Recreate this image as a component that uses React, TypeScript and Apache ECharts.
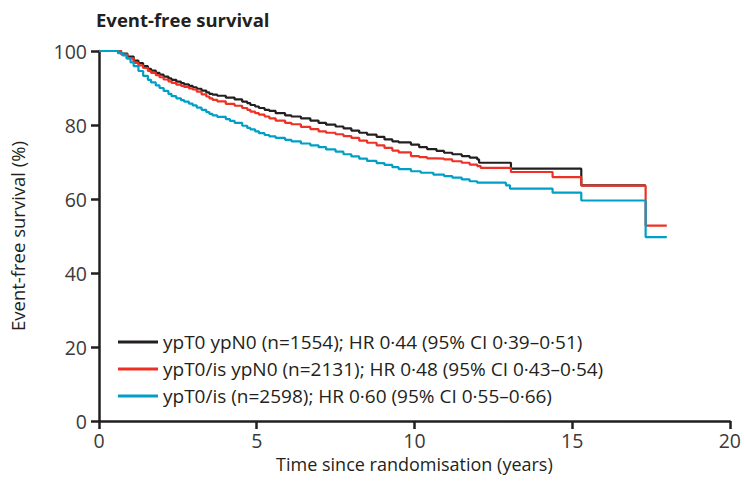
import React, { useEffect, useRef } from "react";
import * as echarts from "echarts";

const seriesNames = [
  "ypT0 ypN0 (n=1554); HR 0·44 (95% CI 0·39–0·51)",
  "ypT0/is ypN0 (n=2131); HR 0·48 (95% CI 0·43–0·54)",
  "ypT0/is (n=2598); HR 0·60 (95% CI 0·55–0·66)",
];
const seriesColors = ["#231f20", "#ee3124", "#00a0c6"];

// [years, survival %]
const ypT0ypN0: [number, number][] = [
  [0, 100], [0.5, 100], [0.7, 99.3], [0.9, 98.5], [1.1, 97.4], [1.25, 96.7], [1.4, 95.9], [1.55, 95.2], [1.65, 94.7],
  [1.8, 94.1], [1.92, 93.6], [2.05, 93.1], [2.2, 92.6], [2.3, 92.2], [2.45, 91.7], [2.6, 91.3], [2.7, 91.0], [2.85, 90.6],
  [2.97, 90.2], [3.1, 89.8], [3.25, 89.3], [3.4, 88.8], [3.5, 88.4], [3.6, 88.2], [3.75, 87.9], [4.02, 87.4],
  [4.3, 86.9], [4.54, 86.3], [4.7, 85.9], [4.8, 85.4], [4.95, 85.0], [5.07, 84.6], [5.25, 84.1], [5.4, 83.8],
  [5.6, 83.2], [5.9, 82.6], [6.1, 82.3], [6.4, 81.8], [6.7, 81.2], [6.96, 80.6], [7.2, 80.1], [7.5, 79.6],
  [7.75, 79.1], [8.0, 78.5], [8.25, 77.9], [8.5, 77.4], [8.8, 76.8], [9.05, 76.1], [9.3, 75.6], [9.5, 75.3],
  [9.89, 74.7], [10.15, 74.0], [10.4, 73.5], [10.7, 73.0], [10.94, 72.5], [11.2, 72.1], [11.5, 71.6],
  [11.75, 71.2], [11.99, 70.7], [12.05, 69.8], [13.06, 68.2], [15.29, 63.7], [17.33, 63.7],
];
const ypT0isypN0: [number, number][] = [
  [0, 100], [0.5, 100], [0.7, 99.1], [0.9, 98.0], [1.1, 96.8], [1.25, 96.1], [1.4, 95.4], [1.55, 94.6], [1.65, 94.1],
  [1.8, 93.5], [1.92, 92.9], [2.05, 92.3], [2.2, 91.8], [2.3, 91.4], [2.45, 90.9], [2.6, 90.6], [2.7, 90.3], [2.85, 89.9],
  [2.97, 89.6], [3.1, 89.0], [3.25, 88.3], [3.4, 87.7], [3.5, 87.2], [3.6, 86.8], [3.75, 86.4], [4.02, 85.7],
  [4.3, 85.2], [4.54, 84.6], [4.7, 84.1], [4.8, 83.6], [4.95, 83.2], [5.07, 82.8], [5.25, 82.3], [5.4, 81.8],
  [5.6, 81.2], [5.9, 80.6], [6.1, 80.2], [6.4, 79.5], [6.7, 78.9], [6.96, 78.3], [7.2, 77.9], [7.5, 77.5],
  [7.75, 77.0], [8.0, 76.5], [8.25, 75.8], [8.5, 75.2], [8.8, 74.5], [9.05, 73.8], [9.3, 73.1], [9.5, 72.6],
  [9.89, 71.6], [10.15, 71.3], [10.4, 71.0], [10.7, 70.9], [10.94, 70.7], [11.2, 70.2], [11.5, 69.8],
  [11.75, 69.3], [11.99, 68.9], [12.1, 68.4], [13.06, 67.3], [14.38, 65.9], [15.29, 63.6], [17.33, 52.8], [18.0, 52.8],
];
const ypT0is: [number, number][] = [
  [0, 100], [0.45, 100], [0.6, 99.4], [0.75, 98.8], [0.87, 98.0], [1.0, 96.9], [1.1, 95.9], [1.25, 94.6], [1.4, 93.3],
  [1.55, 92.2], [1.65, 91.5], [1.8, 90.7], [1.92, 90.0], [2.05, 89.2], [2.2, 88.4], [2.3, 87.8], [2.45, 87.2],
  [2.6, 86.7], [2.7, 86.3], [2.85, 85.8], [2.97, 85.3], [3.1, 84.7], [3.25, 84.1], [3.4, 83.5], [3.5, 83.0],
  [3.6, 82.6], [3.75, 82.2], [4.02, 81.6], [4.15, 81.1], [4.3, 80.6], [4.54, 79.8], [4.7, 79.2], [4.8, 78.8],
  [4.95, 78.3], [5.07, 77.8], [5.25, 77.3], [5.4, 76.9], [5.6, 76.5], [5.9, 76.0], [6.1, 75.6], [6.4, 75.0],
  [6.7, 74.5], [6.96, 74.0], [7.2, 73.4], [7.5, 72.8], [7.75, 72.1], [8.0, 71.5], [8.25, 70.9], [8.5, 70.3],
  [8.8, 69.7], [9.05, 69.2], [9.3, 68.6], [9.5, 68.1], [9.89, 67.5], [10.2, 67.1], [10.6, 66.6], [10.94, 66.2],
  [11.2, 65.8], [11.5, 65.3], [11.75, 64.8], [11.99, 64.4], [12.9, 63.7], [13.03, 62.8], [14.38, 61.7],
  [15.29, 59.6], [17.33, 49.7], [18.0, 49.7],
];
const seriesData = [ypT0ypN0, ypT0isypN0, ypT0is];

const xTicks = [0, 5, 10, 15, 20];
const yTicks = [0, 20, 40, 60, 80, 100];

const FONT = "'Open Sans', 'Noto Sans', sans-serif";

export default function App() {
  const ref = useRef<HTMLDivElement>(null);
  useEffect(() => {
    if (!ref.current) return;
    const chart = echarts.init(ref.current, null, { renderer: "svg" });
    chart.setOption({
      animation: false,
      backgroundColor: "#ffffff",
      title: {
        text: "Event-free survival",
        left: 91,
        top: 5,
        textStyle: { fontFamily: FONT, fontSize: 18.5, fontWeight: "bold", color: "#231f20" },
      },
      legend: {
        orient: "vertical",
        left: 113,
        top: 327,
        itemWidth: 40,
        itemHeight: 3,
        itemGap: 7,
        icon: "rect",
        data: seriesNames,
        textStyle: { fontFamily: FONT, fontSize: 19, lineHeight: 20, color: "#231f20" },
      },
      grid: { left: 95, right: 11, top: 51, bottom: 63, containLabel: false },
      xAxis: {
        type: "value",
        min: xTicks[0],
        max: xTicks[xTicks.length - 1],
        interval: 5,
        name: "Time since randomisation (years)",
        nameLocation: "middle",
        nameGap: 34,
        nameTextStyle: { fontFamily: FONT, fontSize: 18, color: "#231f20" },
        axisLine: { lineStyle: { color: "#231f20", width: 2.5 } },
        axisTick: { show: true, length: 8, lineStyle: { color: "#231f20", width: 2.5 } },
        axisLabel: { fontFamily: FONT, fontSize: 19.5, color: "#3a3a3a", margin: 9 },
        splitLine: { show: false },
      },
      yAxis: {
        type: "value",
        min: yTicks[0],
        max: yTicks[yTicks.length - 1],
        interval: 20,
        name: "Event-free survival (%)",
        nameLocation: "middle",
        nameGap: 72,
        nameTextStyle: { fontFamily: FONT, fontSize: 18.5, color: "#231f20" },
        axisLine: { lineStyle: { color: "#231f20", width: 2.5 } },
        axisTick: { show: true, length: 8, lineStyle: { color: "#231f20", width: 2.5 } },
        axisLabel: { fontFamily: FONT, fontSize: 19.5, color: "#3a3a3a", margin: 12 },
        splitLine: { show: false },
      },
      series: seriesData.map((d, i) => ({
        name: seriesNames[i],
        type: "line",
        step: "end",
        data: d,
        showSymbol: false,
        symbol: "none",
        lineStyle: { color: seriesColors[i], width: 2.2 },
        itemStyle: { color: seriesColors[i] },
        z: 2 + i,
      })),
    });
    return () => chart.dispose();
  }, []);
  return (
    <div
      ref={ref}
      style={{ position: "fixed", left: 0, top: 0, width: 744, height: 484 }}
    />
  );
}
